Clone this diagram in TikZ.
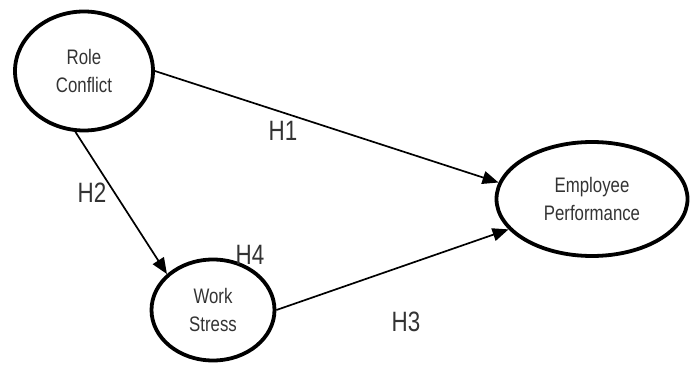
\documentclass[tikz,border=0pt]{standalone}
\usepackage{fontspec}
\setmainfont{Liberation Sans}[FakeStretch=0.8]
\usetikzlibrary{shapes.geometric,arrows.meta}
\definecolor{txt}{HTML}{333333}
\tikzset{
  construct/.style={ellipse, draw=black, line width=3.8pt, inner sep=0pt, align=center,
    font=\fontsize{21}{28}\selectfont, text=txt},
  path/.style={line width=1.7pt, -{Triangle[length=16pt,width=13pt]}},
  hlabel/.style={font=\fontsize{28}{30}\selectfont, text=txt, inner sep=0pt}
}
\begin{document}
\begin{tikzpicture}[x=1pt,y=-1pt]
\useasboundingbox (0,0) rectangle (695,371);
\node[construct, minimum width=138pt, minimum height=119pt] (rc) at (84,71) {Role\\Conflict};
\node[construct, minimum width=123pt, minimum height=101pt] (ws) at (213,310) {Work\\Stress};
\node[construct, minimum width=191pt, minimum height=114pt] (ep) at (592,199) {Employee\\Performance};
\draw[path] (rc.0) -- (ep.170);
\draw[path] (rc.262) -- (ws.142);
\draw[path] (ws.0) -- (ep.200);
\node[hlabel] (h1) at (283,131) {H1};
\node[hlabel] (h2) at (92,193) {H2};
\node[hlabel] (h4) at (250,255) {H4};
\node[hlabel] (h3) at (406,322) {H3};
\end{tikzpicture}
\end{document}
